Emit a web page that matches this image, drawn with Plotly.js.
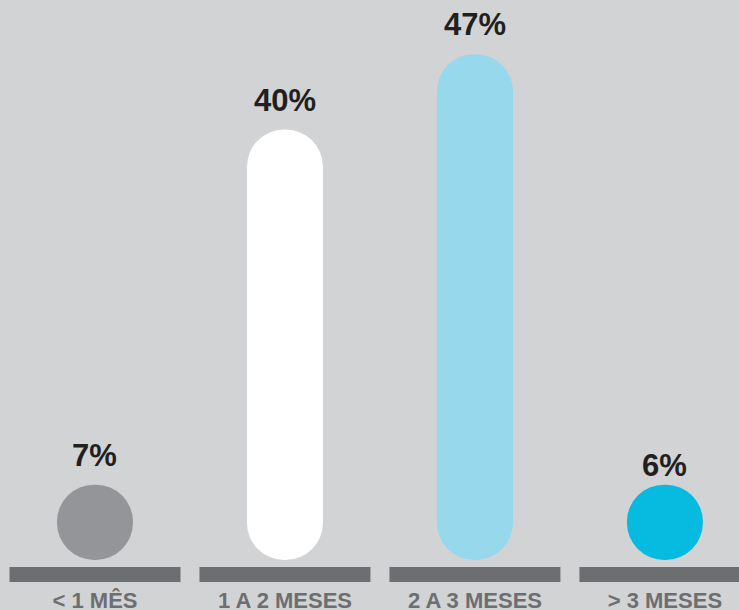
<!DOCTYPE html>
<html><head><meta charset="utf-8">
<script src="https://cdn.plot.ly/plotly-3.0.1.min.js"></script>
<style>html,body{margin:0;padding:0;background:#d1d3d4}</style>
</head><body><div id="chart" style="width:739px;height:610px"></div>
<script>
const categories = ['< 1 MÊS', '1 A 2 MESES', '2 A 3 MESES', '> 3 MESES'];
const values = [7, 40, 47, 6];
const valueLabels = ['7%', '40%', '47%', '6%'];
const barColors = ['#939598', '#ffffff', '#97d8ec', '#06bbdf'];

// pill-shaped bars: never shorter than their own width (a circle)
const minHeight = 7;
const shown = values.map(v => Math.max(v, minHeight));

const bars = {
  type: 'bar', x: categories, y: shown, base: categories.map(() => 0),
  width: 0.4, marker: {color: barColors, cornerradius: '50%', line: {width: 0}},
  hoverinfo: 'skip', showlegend: false
};
const baseline = {
  type: 'bar', x: categories, y: categories.map(() => -1.4), base: categories.map(() => -0.65),
  width: 0.9, marker: {color: '#6d6e71', line: {width: 0}},
  hoverinfo: 'skip', showlegend: false
};

const annotations = categories.map((c, i) => ({
  x: c, y: values[i], xref: 'x', yref: 'y', text: valueLabels[i],
  showarrow: false, yanchor: 'bottom', yshift: 10,
  font: {family: 'Liberation Sans, Arial, sans-serif', size: 31, color: '#231f20', weight: 'bold'}
}));

const layout = {
  width: 739, height: 610,
  margin: {l: 0, r: 0, t: 22, b: 28},
  paper_bgcolor: '#d1d3d4', plot_bgcolor: '#d1d3d4',
  barmode: 'overlay', showlegend: false,
  xaxis: {
    type: 'category', range: [-0.5, 3.39], showgrid: false, zeroline: false, showline: false,
    ticks: '', ticklabelstandoff: 3,
    tickfont: {family: 'Liberation Sans, Arial, sans-serif', size: 22, color: '#6d6e71', weight: 'bold'},
    fixedrange: true
  },
  yaxis: {range: [-2.05, 50], showgrid: false, zeroline: false, showline: false, showticklabels: false, ticks: '', fixedrange: true},
  annotations: annotations
};

Plotly.newPlot('chart', [bars, baseline], layout, {displayModeBar: false, staticPlot: true});
</script></body></html>
